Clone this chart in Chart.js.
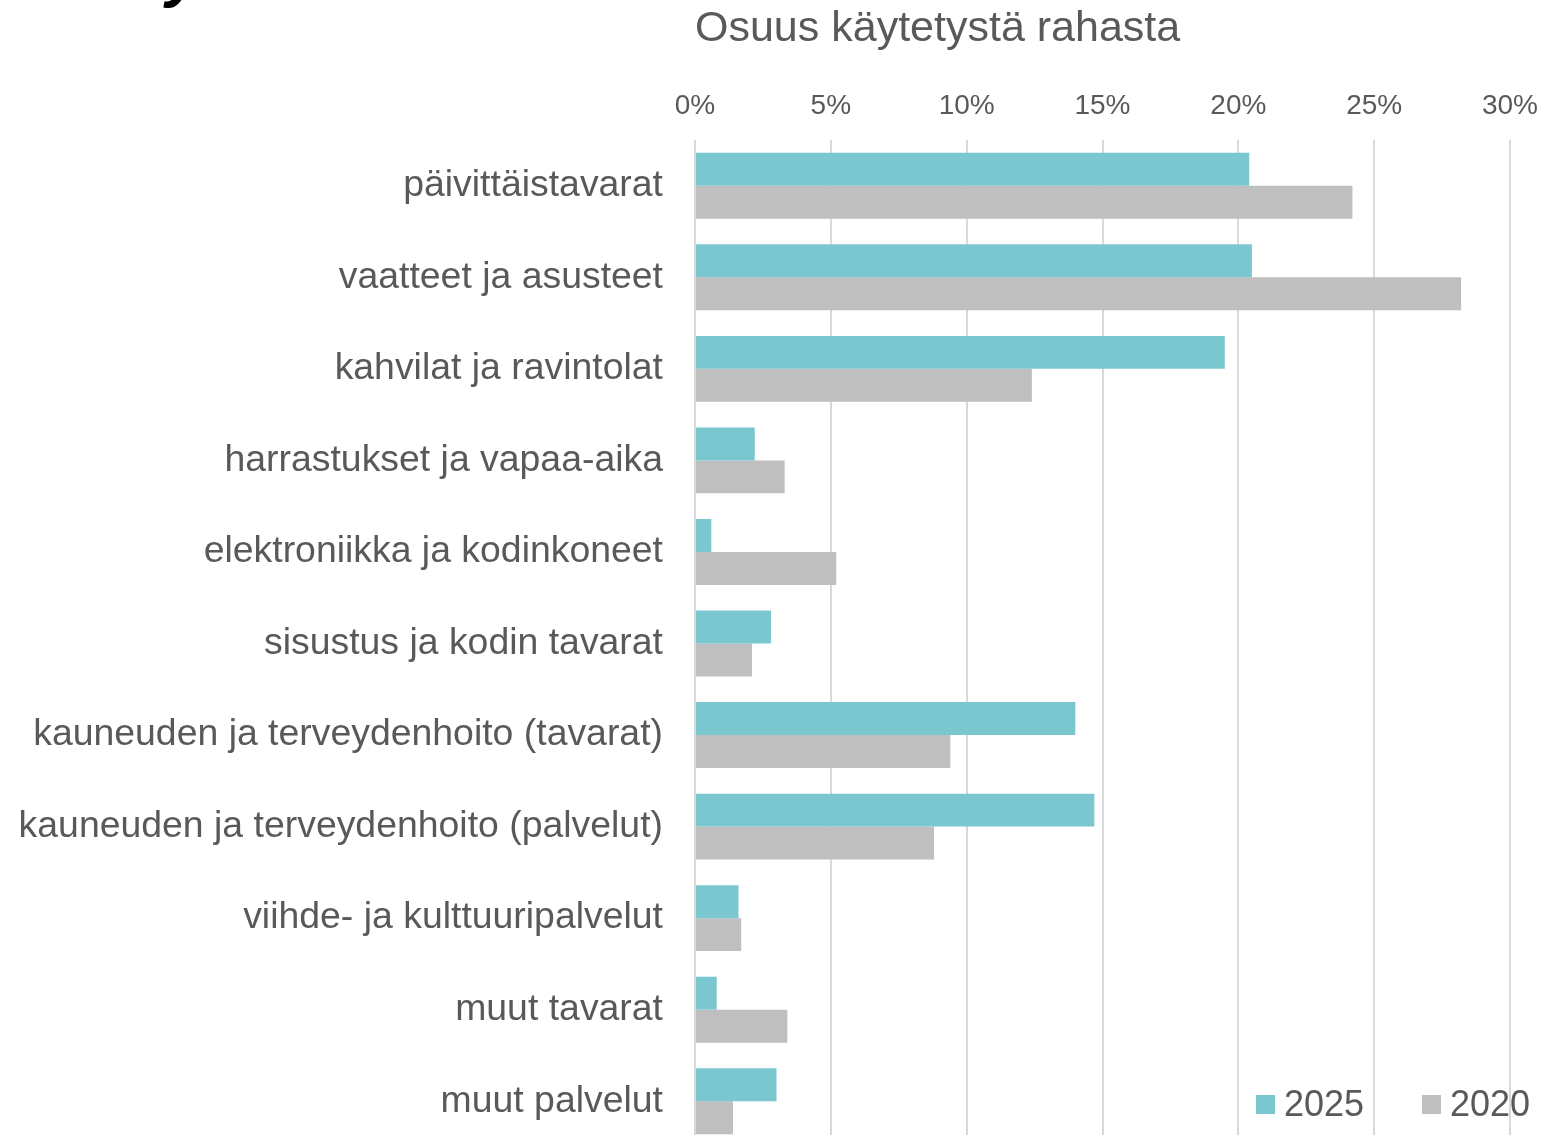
<!DOCTYPE html>
<html>
<head>
<meta charset="utf-8">
<script src="https://cdn.jsdelivr.net/npm/chart.js@4/dist/chart.umd.min.js"></script>
<style>
  html, body { margin: 0; padding: 0; background: #fff; overflow: hidden; }
  body { width: 1548px; height: 1135px; position: relative; font-family: "Liberation Sans", Arial, sans-serif; }
  #chart { position: absolute; left: 0; top: 0; }
  .head { position: absolute; left: 166px; top: -64px; font: italic bold 64px "Liberation Sans", Arial, sans-serif; color: #000; }
  .legend { position: absolute; top: 1080px; color: #595959; font-size: 36px; line-height: 48px; display: flex; align-items: center; }
  .legend i { display: inline-block; width: 19px; height: 19px; margin-right: 9px; }
</style>
</head>
<body>
<div class="head">y</div>
<canvas id="chart" width="1548" height="1150"></canvas>
<div class="legend" style="left:1256px"><i style="background:#7ac7d0"></i>2025</div>
<div class="legend" style="left:1422px"><i style="background:#bfbfbf"></i>2020</div>
<script>
const categories = [
  'päivittäistavarat',
  'vaatteet ja asusteet',
  'kahvilat ja ravintolat',
  'harrastukset ja vapaa-aika',
  'elektroniikka ja kodinkoneet',
  'sisustus ja kodin tavarat',
  'kauneuden ja terveydenhoito (tavarat)',
  'kauneuden ja terveydenhoito (palvelut)',
  'viihde- ja kulttuuripalvelut',
  'muut tavarat',
  'muut palvelut'
];
const share2025 = [20.4, 20.5, 19.5, 2.2, 0.6, 2.8, 14.0, 14.7, 1.6, 0.8, 3.0];
const share2020 = [24.2, 28.2, 12.4, 3.3, 5.2, 2.1, 9.4, 8.8, 1.7, 3.4, 1.4];
const xTicks = [0, 5, 10, 15, 20, 25, 30];

const grey = '#595959';

new Chart(document.getElementById('chart'), {
  type: 'bar',
  data: {
    labels: categories,
    datasets: [
      { label: '2025', data: share2025, backgroundColor: '#7ac7d0', categoryPercentage: 0.72, barPercentage: 1 },
      { label: '2020', data: share2020, backgroundColor: '#bfbfbf', categoryPercentage: 0.72, barPercentage: 1 }
    ]
  },
  options: {
    indexAxis: 'y',
    responsive: false,
    animation: false,
    layout: { padding: { top: 0, right: 38, bottom: 3, left: 0 } },
    plugins: { legend: { display: false }, tooltip: { enabled: false } },
    scales: {
      x: {
        position: 'top',
        min: 0,
        max: 30,
        afterBuildTicks: s => { s.ticks = xTicks.map(v => ({ value: v })); },
        afterFit: s => { s.height = 140; s.paddingLeft = 0; s.paddingRight = 0; },
        ticks: { color: grey, font: { family: 'Liberation Sans', size: 28 }, padding: 17, callback: v => v + '%' },
        grid: { color: '#d9d9d9', lineWidth: 2, drawTicks: false },
        border: { display: false },
        title: {
          display: true,
          text: 'Osuus käytetystä rahasta',
          align: 'start',
          color: grey,
          font: { family: 'Liberation Sans', size: 43 },
          padding: { top: 3, bottom: 0 }
        }
      },
      y: {
        afterFit: s => { s.width = 695; s.paddingTop = 0; s.paddingBottom = 0; },
        ticks: { color: grey, font: { family: 'Liberation Sans', size: 37.4 }, padding: 32 },
        grid: { display: false, drawTicks: false },
        border: { display: false }
      }
    }
  }
});
</script>
</body>
</html>
